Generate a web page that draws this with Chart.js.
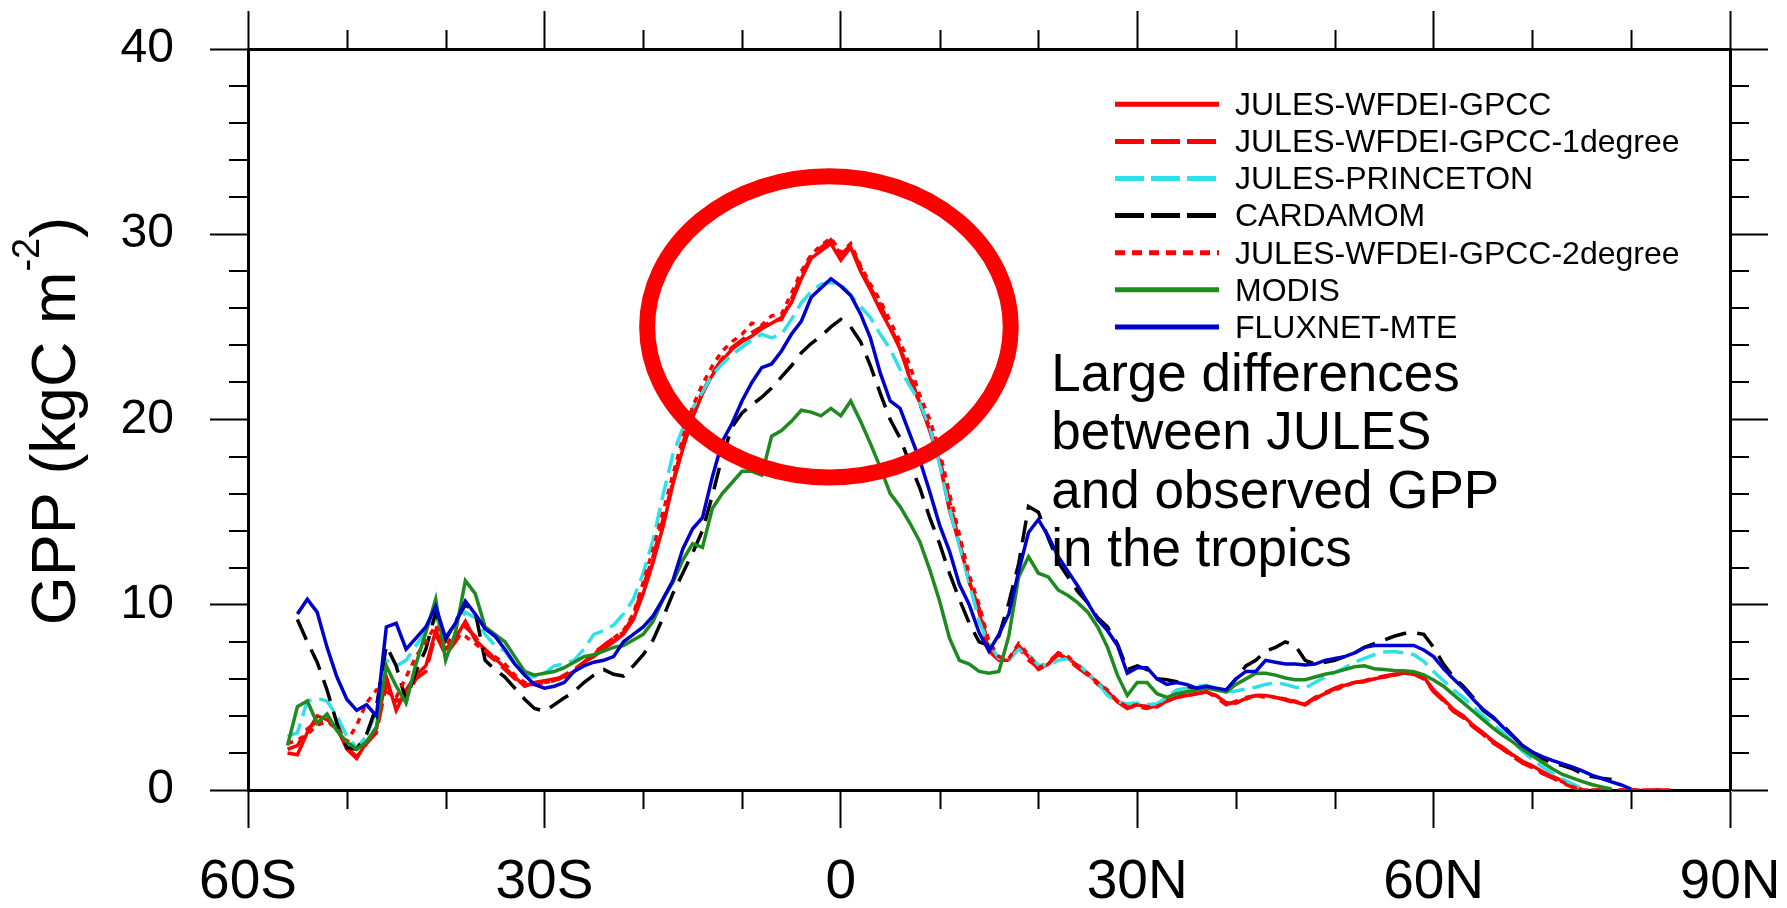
<!DOCTYPE html>
<html>
<head>
<meta charset="utf-8">
<title>Zonal mean GPP</title>
<script src="https://cdn.jsdelivr.net/npm/chart.js@4.4.1/dist/chart.umd.min.js"></script>
<style>
  html, body { margin: 0; padding: 0; background: #fff; }
  canvas { display: block; }
</style>
</head>
<body>
<canvas id="gpp" width="1787" height="908"></canvas>
<script>
// zonal means on a 1 degree grid, 56S .. 84N
const latitude = Array.from({ length: 141 }, (_, i) => i - 56);
const latTicks = ['60S', '30S', '0', '30N', '60N', '90N'];
const gppTicks = ['0', '10', '20', '30', '40'];

const julesWfdeiGpcc = [
  2.0, 1.9, 3.1, 4.0, 3.8, 3.4, 2.2, 1.7, 2.6, 3.3,
  6.1, 4.3, 5.4, 6.2, 6.7, 8.6, 7.6, 8.2, 9.1, 8.1,
  7.6, 7.1, 6.6, 6.1, 5.6, 5.8, 5.9, 6.0, 6.1, 6.4,
  6.9, 7.2, 7.6, 8.0, 8.4, 9.2, 10.6, 12.3, 14.2, 16.5,
  18.4, 20.1, 21.4, 22.4, 23.2, 23.8, 24.2, 24.5, 24.9, 25.2,
  25.5, 26.3, 27.6, 28.7, 29.1, 29.5, 28.6, 29.3, 28.0, 27.0,
  25.9, 24.9, 23.8, 22.2, 20.9, 19.4, 17.7, 15.1, 13.3, 11.3,
  9.6, 7.5, 7.0, 7.0, 7.8, 7.2, 6.5, 6.8, 7.3, 7.1,
  6.7, 6.25, 5.8, 5.3, 4.75, 4.4, 4.6, 4.5, 4.5, 4.8,
  5.0, 5.1, 5.2, 5.3, 5.1, 4.7, 4.7, 4.95, 5.1, 5.1,
  5.0, 4.9, 4.75, 4.6, 4.95, 5.2, 5.45, 5.65, 5.8, 5.85,
  6.0, 6.1, 6.2, 6.32, 6.3, 6.1, 5.4, 4.9, 4.35, 4.0,
  3.5, 3.1, 2.65, 2.3, 1.9, 1.55, 1.3, 1.0, 0.75, 0.5,
  0.25, 0.03, null, null, null, null, null, null, null, null,
  null
];

const julesWfdeiGpcc1deg = [
  2.2, 2.4, 3.3, 3.7, 3.7, 3.3, 2.3, 1.8, 2.5, 3.1,
  5.7, 4.8, 5.0, 6.0, 6.4, 8.4, 7.3, 8.0, 8.8, 8.3,
  7.4, 7.0, 6.5, 6.0, 5.7, 5.7, 5.8, 5.9, 6.2, 6.5,
  6.9, 7.4, 7.8, 8.2, 8.5, 9.4, 11.0, 12.6, 14.6, 16.6,
  18.7, 20.3, 21.5, 22.5, 23.3, 23.9, 24.3, 24.7, 25.0, 25.3,
  25.4, 26.5, 27.8, 28.8, 29.3, 29.7, 28.9, 29.4, 28.2, 27.1,
  26.2, 25.0, 23.9, 22.4, 20.8, 19.6, 17.9, 15.6, 13.4, 11.2,
  9.8, 7.7, 7.1, 7.0, 7.7, 7.0, 6.6, 6.9, 7.4, 7.0,
  6.6, 6.2, 5.7, 5.3, 4.8, 4.5, 4.5, 4.4, 4.6, 4.8,
  5.0, 5.2, 5.2, 5.3, 5.0, 4.6, 4.8, 5.0, 5.1, 5.0,
  5.0, 4.85, 4.7, 4.65, 5.0, 5.25, 5.5, 5.7, 5.8, 5.9,
  6.05, 6.15, 6.25, 6.3, 6.25, 6.0, 5.3, 4.8, 4.25, 3.9,
  3.4, 3.0, 2.55, 2.2, 1.8, 1.45, 1.2, 0.9, 0.65, 0.4,
  0.15, 0.0, 0.0, 0.0, 0.0, 0.0, 0.0, 0.0, 0.0, 0.0,
  0.0
];

const julesPrinceton = [
  2.9, 3.1, 4.8, 4.95, 4.8, 4.0, 2.9, 2.3, 2.9, 4.3,
  7.0, 6.7, 7.0, 7.8, 8.55, 9.3, 8.3, 8.9, 9.6, 9.3,
  8.4, 7.8, 7.5, 6.8, 6.2, 6.1, 6.3, 6.7, 6.8, 7.0,
  7.6, 8.4, 8.6, 8.9, 9.5, 10.3, 11.7, 13.5, 15.9, 18.1,
  19.5, 20.6, 21.5, 22.4, 23.0, 23.5, 23.9, 24.3, 24.6, 24.4,
  24.6, 25.4, 26.3, 26.9, 27.3, 27.4, 27.3, 26.7, 26.1, 25.5,
  24.6, 23.8, 22.7, 21.8, 20.9, 19.6, 17.6, 15.2, 13.2, 11.2,
  9.1, 7.9, 7.1, 7.0, 7.6, 7.3, 6.75, 6.7, 7.0, 7.1,
  6.8, 6.3, 5.8, 5.1, 4.75, 4.65, 4.7, 4.6, 4.65, 5.0,
  5.4, 5.5, 5.6, 5.65, 5.45, 5.3, 5.35, 5.45, 5.55, 5.7,
  5.8, 5.7, 5.55, 5.5, 5.8, 6.1, 6.35, 6.6, 6.9, 7.1,
  7.3, 7.45, 7.47, 7.4, 7.3, 6.95, 6.4, 5.9, 5.4, 5.0,
  4.5, 4.0, 3.55, 3.1, 2.6, 2.1, 1.65, 1.25, 0.9, 0.6,
  0.35, 0.08, null, null, null, null, null, null, null, null,
  null
];

const cardamom = [
  null, 9.2, 8.0, 6.9, 5.4, 3.6, 2.3, 2.2, 3.0, 4.5,
  7.8, 6.7, 4.8, 6.4, 7.6, 9.6, 8.1, 9.1, 10.0, 9.6,
  7.0, 6.5, 6.1, 5.5, 4.9, 4.4, 4.25, 4.6, 4.97, 5.3,
  5.8, 6.2, 6.5, 6.25, 6.15, 6.7, 7.3, 8.1, 9.3, 10.6,
  11.7, 12.8, 14.0, 15.9, 18.0, 19.6, 20.35, 20.8, 21.2, 21.7,
  22.3, 22.9, 23.6, 24.1, 24.5, 25.0, 25.4, 25.0, 24.2, 22.9,
  21.4, 20.0, 19.0, 17.6, 16.3, 14.7, 13.3, 11.7, 10.3, 9.0,
  8.0, 7.8, 8.3, 10.1, 12.2, 15.3, 15.0, 13.6, 12.3, 11.5,
  10.7, 10.1, 9.3, 8.8, 7.9, 6.5, 6.7, 6.5, 6.0, 5.95,
  5.85, 5.6, 5.5, 5.5, 5.4, 5.35, 6.0, 6.7, 7.0, 7.5,
  7.7, 8.0, 7.8, 7.0, 6.8, 6.9, 7.0, 7.2, 7.4, 7.7,
  7.9, 8.1, 8.3, 8.45, 8.5, 8.4, 7.7, 6.8, 6.1, 5.6,
  5.0, 4.3, 3.9, 3.5, 2.95, 2.4, 2.0, 1.7, 1.45, 1.33,
  1.15, 0.9, 0.72, 0.63, 0.57, 0.45, null, null, null, null,
  null
];

const julesWfdeiGpcc2deg = [
  2.5, 2.7, 3.0, 3.5, 3.7, 3.4, 2.6, 3.5, 4.7, 5.4,
  5.3, 5.0, 6.1, 7.2, 8.0, 8.9, 7.8, 8.5, 8.3, 7.9,
  7.5, 7.2, 6.8, 6.2, 5.8, 5.7, 5.8, 5.9, 6.1, 6.4,
  6.9, 7.3, 7.8, 8.2, 8.6, 9.5, 11.2, 13.0, 15.0, 17.0,
  19.0, 20.7, 21.9, 22.9, 23.7, 24.2, 24.6, 25.2, 25.1, 25.6,
  25.7, 26.8, 28.0, 28.9, 29.4, 29.8, 29.0, 29.5, 28.3, 27.3,
  26.4, 25.3, 24.2, 22.9, 21.3, 20.0, 18.3, 16.0, 13.8, 11.6,
  10.0, 8.0, 7.2, 7.1, 7.9, 7.3, 6.6, 6.8, 7.4, 7.2,
  6.7, 6.3, 5.8, 5.4, 4.8, 4.5, 4.6, 4.5, 4.5, 4.8,
  5.0, 5.1, 5.2, 5.3, 5.1, 4.7, 4.7, 4.9, 5.1, 5.1,
  5.0, 4.9, 4.8, 4.6, 4.9, 5.2, 5.4, 5.6, 5.8, 5.85,
  6.0, 6.1, 6.2, 6.3, 6.3, 6.1, 5.35, 4.85, 4.3, 3.95,
  3.45, 3.05, 2.6, 2.25, 1.85, 1.5, 1.25, 0.95, 0.7, 0.45,
  0.2, 0.0, 0.0, 0.0, 0.0, 0.0, 0.0, 0.0, 0.0, 0.0,
  0.0
];

const modis = [
  2.4, 4.5, 4.8, 3.6, 4.1, 3.2, 2.6, 2.2, 2.6, 3.4,
  6.7, 5.6, 4.7, 6.8, 8.5, 10.3, 7.0, 8.5, 11.3, 10.6,
  8.8, 8.4, 8.0, 7.2, 6.4, 6.2, 6.3, 6.4, 6.6, 6.9,
  7.2, 7.3, 7.5, 7.7, 7.8, 8.1, 8.4, 9.1, 10.3, 11.2,
  12.4, 13.3, 13.1, 15.2, 16.0, 16.6, 17.2, 17.2, 17.0, 19.1,
  19.4, 19.9, 20.5, 20.4, 20.2, 20.6, 20.2, 21.0, 19.9, 18.7,
  17.4, 16.0, 15.3, 14.4, 13.4, 11.9, 10.2, 8.2, 7.0, 6.8,
  6.4, 6.3, 6.4, 8.3, 11.5, 12.6, 11.7, 11.5, 10.8, 10.5,
  10.1, 9.6, 8.8, 7.7, 6.2, 5.1, 5.8, 5.8, 5.2, 5.0,
  5.2, 5.3, 5.4, 5.5, 5.4, 5.3, 5.7, 6.0, 6.3, 6.3,
  6.2, 6.05, 5.95, 5.95, 6.1, 6.25, 6.35, 6.5, 6.65, 6.7,
  6.55, 6.5, 6.45, 6.44, 6.39, 6.21, 5.94, 5.6, 5.15, 4.7,
  4.25, 3.8, 3.35, 2.95, 2.6, 2.2, 1.85, 1.5, 1.15, 0.85,
  0.65, 0.47, 0.3, 0.17, 0.05, null, null, null, null, null,
  null
];

const fluxnetMte = [
  null, 9.5, 10.3, 9.6, 7.7, 6.1, 4.9, 4.3, 4.6, 4.0,
  8.8, 9.0, 7.6, 8.2, 8.8, 9.9, 8.2, 9.0, 10.2, 9.5,
  8.7, 8.3, 7.6, 6.8, 6.2, 5.7, 5.5, 5.6, 5.8, 6.4,
  6.7, 6.9, 7.0, 7.2, 8.0, 8.4, 8.8, 9.4, 10.3, 11.3,
  13.0, 14.1, 14.7, 16.9, 18.8, 19.8, 21.0, 22.0, 22.8, 23.0,
  23.7, 24.6, 25.3, 26.6, 27.1, 27.6, 27.2, 26.7, 25.7, 24.4,
  22.5, 21.0, 20.6, 19.2, 17.8, 16.1, 14.3, 12.9, 11.1, 10.0,
  8.5, 7.5, 8.4, 9.5, 11.8, 13.9, 14.6, 13.7, 12.6, 11.8,
  11.0, 10.1, 9.2, 8.6, 7.8, 6.3, 6.6, 6.6, 6.0, 5.7,
  5.8, 5.7, 5.5, 5.6, 5.5, 5.4, 6.0, 6.4, 6.4, 7.0,
  6.9, 6.8, 6.8, 6.75, 6.8, 7.0, 7.1, 7.2, 7.4, 7.7,
  7.8, 7.8, 7.8, 7.8, 7.8, 7.56, 7.2, 6.55, 6.0, 5.5,
  4.9, 4.35, 3.95, 3.4, 2.9, 2.4, 2.05, 1.8, 1.6, 1.42,
  1.25, 1.05, 0.8, 0.62, 0.44, 0.27, 0.05, null, null, null,
  null
];

// red ring around the tropical peak, in data units (centre and half axes)
const ring = { lat: -1.2, gpp: 25.0, halfLat: 18.4, halfGpp: 8.13 };

const noteLines = ['Large differences', 'between JULES', 'and observed GPP', 'in the tropics'];
const notePos = { lat: 21.3, gpp: 21.55 };

const FONT = '"Liberation Sans", Arial, Helvetica, sans-serif';
Chart.defaults.font.family = FONT;
Chart.defaults.color = '#000';

const toPoints = vals => latitude.map((lat, i) => ({ x: lat, y: vals[i] }));

const datasets = [
  { label: 'JULES-WFDEI-GPCC', data: toPoints(julesWfdeiGpcc), borderColor: '#ff0000', borderDash: [], legendDash: [] },
  { label: 'JULES-WFDEI-GPCC-1degree', data: toPoints(julesWfdeiGpcc1deg), borderColor: '#ff0000', borderDash: [20, 8], legendDash: [29, 7] },
  { label: 'JULES-PRINCETON', data: toPoints(julesPrinceton), borderColor: '#30e0e8', borderDash: [20, 8], legendDash: [29, 7] },
  { label: 'CARDAMOM', data: toPoints(cardamom), borderColor: '#000000', borderDash: [22, 11], legendDash: [29, 7] },
  { label: 'JULES-WFDEI-GPCC-2degree', data: toPoints(julesWfdeiGpcc2deg), borderColor: '#ff0000', borderDash: [6, 6], legendDash: [10, 7] },
  { label: 'MODIS', data: toPoints(modis), borderColor: '#1f8a1f', borderDash: [], legendDash: [] },
  { label: 'FLUXNET-MTE', data: toPoints(fluxnetMte), borderColor: '#0000cc', borderDash: [], legendDash: [] }
].map((d, i, all) => Object.assign({
  borderWidth: 3.5, pointRadius: 0, fill: false, tension: 0,
  xAxisID: 'x', yAxisID: 'y', order: all.length - i
}, d));

// ring, note, legend, minor ticks and the y title
const overlay = {
  id: 'overlay',
  afterDatasetsDraw(chart) {
    const { ctx, chartArea: a, scales: { x, y } } = chart;
    ctx.save();

    const cx = x.getPixelForValue(ring.lat);
    const cy = y.getPixelForValue(ring.gpp);
    const rx = x.getPixelForValue(ring.lat + ring.halfLat) - cx;
    const ry = cy - y.getPixelForValue(ring.gpp + ring.halfGpp);
    ctx.strokeStyle = '#ff0000';
    ctx.lineWidth = 16;
    ctx.setLineDash([]);
    ctx.beginPath();
    ctx.ellipse(cx, cy, rx, ry, 0, 0, Math.PI * 2);
    ctx.stroke();

    ctx.fillStyle = '#000';
    ctx.font = '53px ' + FONT;
    ctx.textAlign = 'left';
    ctx.textBaseline = 'alphabetic';
    const nx = x.getPixelForValue(notePos.lat);
    const ny = y.getPixelForValue(notePos.gpp);
    noteLines.forEach((t, i) => ctx.fillText(t, nx, ny + i * 58.5));

    // legend block in the upper right of the plot
    const x0 = a.right - 615, x1 = a.right - 511, tx = a.right - 495;
    ctx.font = '32px ' + FONT;
    ctx.textBaseline = 'middle';
    chart.data.datasets.forEach((ds, i) => {
      const ly = a.top + 55.3 + i * 37.1;
      ctx.strokeStyle = ds.borderColor;
      ctx.lineWidth = 5;
      ctx.lineCap = 'butt';
      ctx.setLineDash(ds.legendDash);
      ctx.beginPath();
      ctx.moveTo(x0, ly);
      ctx.lineTo(x1, ly);
      ctx.stroke();
      ctx.fillText(ds.label, tx, ly + 2);
    });
    ctx.restore();
  },
  afterDraw(chart) {
    const { ctx, chartArea: a, scales: { x, y } } = chart;
    ctx.save();
    ctx.strokeStyle = '#000';
    ctx.lineWidth = 2;
    ctx.setLineDash([]);
    ctx.beginPath();
    for (let v = -60; v <= 90; v += 10) {
      if (v % 30 === 0) continue;
      const px = Math.round(x.getPixelForValue(v)) + 0.5;
      ctx.moveTo(px, a.bottom); ctx.lineTo(px, a.bottom + 19);
      ctx.moveTo(px, a.top); ctx.lineTo(px, a.top - 19);
    }
    for (let v = 0; v <= 40; v += 2) {
      if (v % 10 === 0) continue;
      const py = Math.round(y.getPixelForValue(v));
      ctx.moveTo(a.left, py); ctx.lineTo(a.left - 19, py);
      ctx.moveTo(a.right, py); ctx.lineTo(a.right + 19, py);
    }
    ctx.stroke();

    // GPP (kgC m^-2), rotated
    ctx.translate(75, (a.top + a.bottom) / 2 + 1.5);
    ctx.rotate(-Math.PI / 2);
    ctx.fillStyle = '#000';
    ctx.textBaseline = 'alphabetic';
    ctx.textAlign = 'left';
    const big = '63px ' + FONT, small = '38px ' + FONT;
    ctx.font = big;
    const w1 = ctx.measureText('GPP (kgC m').width;
    const w3 = ctx.measureText(')').width;
    ctx.font = small;
    const w2 = ctx.measureText('-2').width;
    let px = -(w1 + w2 + w3) / 2;
    ctx.font = big;
    ctx.fillText('GPP (kgC m', px, 0);
    px += w1;
    ctx.font = small;
    ctx.fillText('-2', px, -36);
    px += w2;
    ctx.font = big;
    ctx.fillText(')', px, 0);
    ctx.restore();
  }
};

const frame = { display: true, color: '#000', width: 3 };
const majorTicks = {
  display: true, drawOnChartArea: false, drawTicks: true,
  tickLength: 38, tickWidth: 2, tickColor: '#000'
};

// fixed axis bands so the plot frame sits where it should; label overhang is ignored
const fixX = h => s => { s.height = h; s.paddingLeft = 0; s.paddingRight = 0; };
const fixY = w => s => { s.width = w; s.paddingTop = 0; s.paddingBottom = 0; };

new Chart(document.getElementById('gpp'), {
  type: 'line',
  data: { datasets },
  options: {
    responsive: false,
    animation: false,
    devicePixelRatio: 1,
    layout: { padding: 0 },
    plugins: { legend: { display: false }, tooltip: { enabled: false } },
    scales: {
      x: {
        type: 'linear', position: 'bottom', min: -60, max: 90,
        ticks: {
          stepSize: 30, autoSkip: false, maxRotation: 0, padding: 22,
          font: { size: 55 }, callback: (v, i) => latTicks[i]
        },
        grid: majorTicks, border: frame,
        afterFit: fixX(118)
      },
      x2: {
        type: 'linear', position: 'top', min: -60, max: 90,
        ticks: { stepSize: 30, display: false },
        grid: majorTicks, border: frame,
        afterFit: fixX(49)
      },
      y: {
        type: 'linear', position: 'left', min: 0, max: 40,
        ticks: {
          stepSize: 10, padding: 36, font: { size: 48 },
          callback: (v, i) => gppTicks[i]
        },
        grid: majorTicks, border: frame,
        afterFit: fixY(248)
      },
      y2: {
        type: 'linear', position: 'right', min: 0, max: 40,
        ticks: { stepSize: 10, display: false },
        grid: majorTicks, border: frame,
        afterFit: fixY(57)
      }
    }
  },
  plugins: [overlay]
});
</script>
</body>
</html>
